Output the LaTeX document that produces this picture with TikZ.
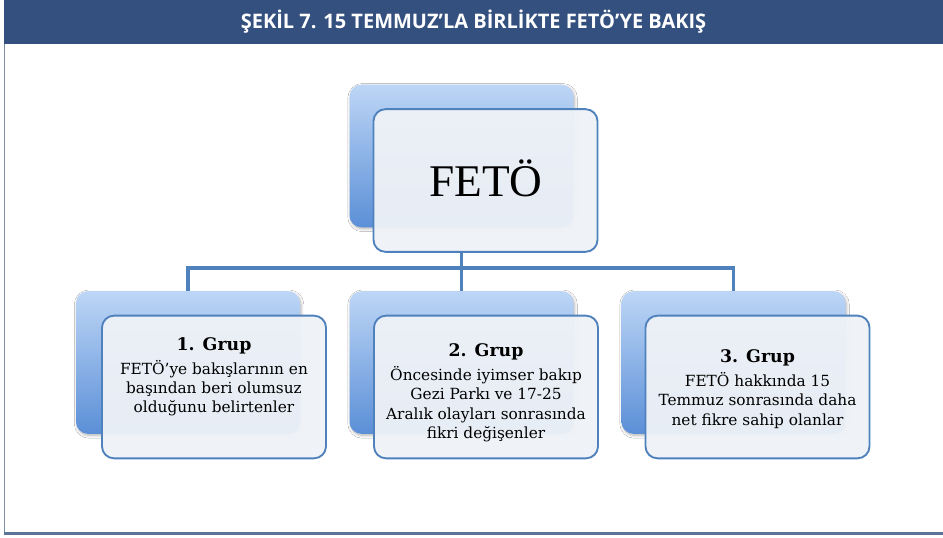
\documentclass[tikz,border=0pt]{standalone}
\usepackage{fontspec}
\setmainfont{DejaVu Serif}
\newfontfamily\titlefont{Open Sans}
\newfontfamily\fetofont{Liberation Serif}
\usetikzlibrary{shadows.blur}
\definecolor{hdr}{HTML}{34507F}
\definecolor{edge}{HTML}{4F81BD}
\definecolor{backtop}{HTML}{BDD6F6}
\definecolor{backbot}{HTML}{5B8FD7}
\definecolor{frontfill}{HTML}{EFF2F7}
\definecolor{frameline}{HTML}{7F8FA6}
\newcommand\grphd{\fontsize{13}{16}\selectfont\bfseries}
\tikzset{
  backbox/.style={rectangle, rounded corners=9pt, minimum width=168pt, minimum height=107pt,
    top color=backtop, bottom color=backbot, draw=none, inner sep=0pt,
    blur shadow={shadow xshift=0.8pt, shadow yshift=-1.2pt, shadow blur steps=6, shadow opacity=30}},
  frontbox/.style={rectangle, rounded corners=9pt, minimum width=168pt, minimum height=107pt,
    fill=frontfill, fill opacity=0.95, draw=edge, line width=1.4pt, inner sep=0pt},
  conn/.style={draw=edge, line width=2.4pt},
  grptext/.style={align=center, font=\fontsize{11.5}{14.6}\selectfont, text=black, inner sep=0pt},
}
\begin{document}
\begin{tikzpicture}[x=0.75pt,y=-0.75pt]
\useasboundingbox (0,0) rectangle (943,537);
% frame
\fill[white] (0,0) rectangle (943,537);
\draw[frameline, line width=0.8pt] (4.5,44) -- (4.5,533);
\draw[hdr!80, line width=1.8pt] (4,533.5) -- (943,533.5);
\fill[hdr] (4,0) rectangle (943,44);
\node[text=white, font=\titlefont\bfseries\fontsize{15}{18}\selectfont, inner sep=0pt] (title) at (473.5,22)
  {ŞEKİL 7. 15 TEMMUZ’LA BİRLİKTE FETÖ’YE BAKIŞ};
% back boxes
\node[backbox] (fb) at (461.5,156) {};
\node[backbox] (g1b) at (188,362.5) {};
\node[backbox] (g2b) at (461.5,362.5) {};
\node[backbox] (g3b) at (733.5,362.5) {};
% front boxes
\node[frontbox] (ff) at (485.5,180.5) {};
\node[frontbox] (g1f) at (214,387) {};
\node[frontbox] (g2f) at (486,387) {};
\node[frontbox] (g3f) at (757.5,387) {};
% connectors
\coordinate (bus) at (0,268);
\draw[conn] (ff.south -| g2b.north) -- (g2b.north);
\draw[conn] (g1b.north) -- (g1b.north |- bus) -- (g3b.north |- bus) -- (g3b.north);
% texts
\node[font=\fetofont\fontsize{34}{40}\selectfont, inner sep=0pt] (fetot) at (486,178) {FETÖ};
\node[grptext] (g1t) at (214,377) {{\grphd 1. Grup}\\[3pt]
  FETÖ’ye bakışlarının en\\başından beri olumsuz\\olduğunu belirtenler};
\node[grptext] (g2t) at (486,393) {{\grphd 2. Grup}\\[3pt]
  Öncesinde iyimser bakıp\\Gezi Parkı ve 17-25\\Aralık olayları sonrasında\\fikri değişenler};
\node[grptext] (g3t) at (757.5,389) {{\grphd 3. Grup}\\[3pt]
  FETÖ hakkında 15\\Temmuz sonrasında daha\\net fikre sahip olanlar};
\end{tikzpicture}
\end{document}
